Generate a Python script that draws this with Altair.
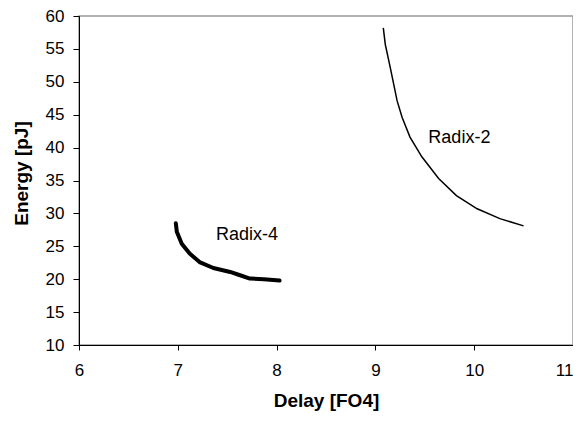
import altair as alt
import pandas as pd

r2_delay = [9.08, 9.10, 9.15, 9.22, 9.27, 9.35, 9.47, 9.64, 9.82, 10.03, 10.26, 10.50]
r2_energy = [58.2, 55.7, 52.2, 47.1, 44.6, 41.6, 38.6, 35.3, 32.7, 30.7, 29.2, 28.1]
r4_delay = [6.98, 6.99, 7.04, 7.12, 7.22, 7.36, 7.53, 7.63, 7.73, 7.87, 8.03]
r4_energy = [28.5, 27.2, 25.4, 23.9, 22.6, 21.7, 21.1, 20.6, 20.1, 20.0, 19.8]

labels = ["Radix-2", "Radix-4"]
label_x = [9.85, 7.70]
label_y = [41.4, 26.7]

df2 = pd.DataFrame({"delay": r2_delay, "energy": r2_energy, "order": range(len(r2_delay))})
df4 = pd.DataFrame({"delay": r4_delay, "energy": r4_energy, "order": range(len(r4_delay))})
dfl = pd.DataFrame({"delay": label_x, "energy": label_y, "label": labels})

FONT = "Liberation Sans"
xs = alt.Scale(domain=[6, 11], nice=False, zero=False)
ys = alt.Scale(domain=[10, 60], nice=False, zero=False)


def xenc():
    return alt.X("delay:Q", scale=xs,
                 axis=alt.Axis(values=[6, 7, 8, 9, 10, 11], title="Delay [FO4]",
                               tickSize=5, labelPadding=12, titlePadding=13,
                               labelFlush=False, labelOverlap=False,
                               labelAlign=alt.expr("datum.value == 11 ? 'right' : 'center'")))


def yenc():
    return alt.Y("energy:Q", scale=ys,
                 axis=alt.Axis(values=list(range(10, 61, 5)), title="Energy [pJ]",
                               tickSize=6, labelPadding=9, titlePadding=14,
                               labelOverlap=False, titleY=157))


base2 = alt.Chart(df2).mark_line(color="black", strokeWidth=1.5).encode(
    x=xenc(), y=yenc(), order="order:Q",
)
base4 = alt.Chart(df4).mark_line(color="black", strokeWidth=4, strokeCap="round",
                                 strokeJoin="round").encode(
    x=xenc(), y=yenc(), order="order:Q",
)
text = alt.Chart(dfl).mark_text(font=FONT, fontSize=18, color="black").encode(
    x=xenc(), y=yenc(), text="label:N",
)

chart = alt.layer(base2, base4, text).properties(
    width=494, height=329,
    background="white",
    autosize=alt.AutoSizeParams(type="none"),
    padding={"left": 71, "top": 8, "right": 0, "bottom": 73},
).configure_view(
    stroke="#999999", strokeWidth=1.5
).configure_axis(
    grid=False, domainColor="black", tickColor="black", domainWidth=1,
    labelFontSize=17, labelFont=FONT, labelColor="black",
    titleFont=FONT, titleFontSize=19, titleFontWeight="bold", titleColor="black",
)

chart.save("out.html", embed_options={"renderer": "svg", "actions": False})
